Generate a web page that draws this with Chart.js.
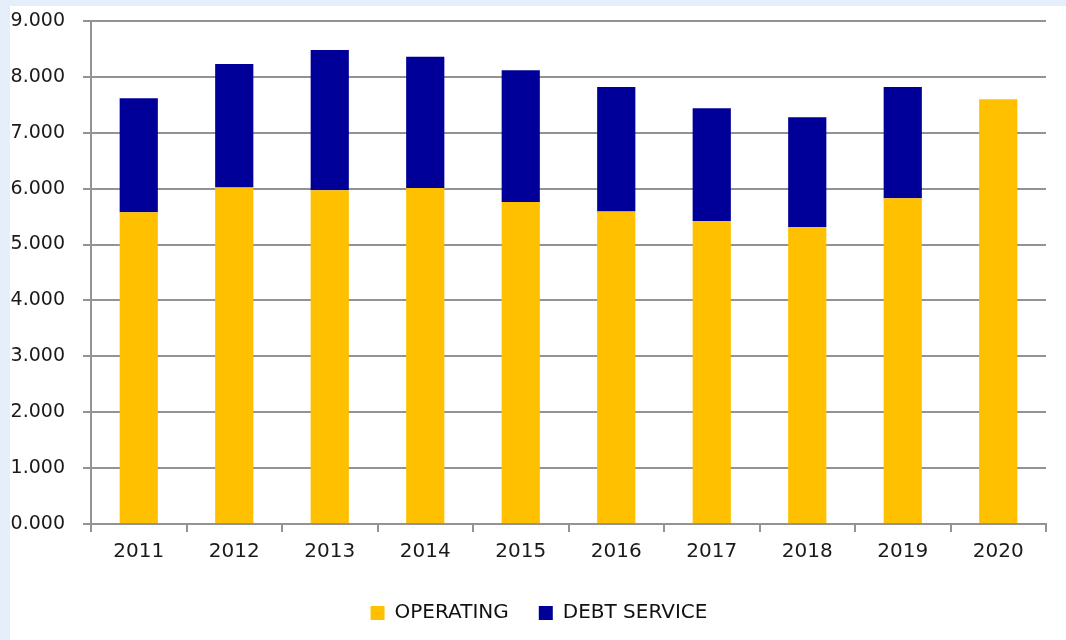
<!DOCTYPE html>
<html lang="en">
<head>
<meta charset="UTF-8">
<title>Operating and Debt Service</title>
<script src="https://cdn.jsdelivr.net/npm/chart.js"></script>
<style>
  body { margin: 0; background: #e4effb; }
  .frame {
    position: absolute; left: 10px; top: 6px;
    width: 1056px; height: 634px;
    background: #fff; overflow: hidden;
  }
  .frame canvas { display: block; }
</style>
</head>
<body>
<div class="frame"><canvas id="spendChart" width="1056" height="627"></canvas></div>
<script>
// yearly spending, in thousands
const years = ['2011', '2012', '2013', '2014', '2015', '2016', '2017', '2018', '2019', '2020'];
const operating = [5.58, 6.02, 5.97, 6.01, 5.76, 5.59, 5.42, 5.31, 5.83, 7.60];
const debtService = [2.04, 2.21, 2.51, 2.35, 2.36, 2.23, 2.02, 1.97, 1.99, 0];

Chart.defaults.font.family = "'DejaVu Sans', Verdana, sans-serif";
Chart.defaults.color = '#1a1a1a';

const gridColor = '#939393';

// nudge the legend a little to the right of the canvas centre
const legendShift = {
  id: 'legendShift',
  afterLayout(chart) {
    chart.legend.left += 11;
    chart.legend.right += 11;
  }
};

new Chart(document.getElementById('spendChart'), {
  type: 'bar',
  data: {
    labels: years,
    datasets: [
      { label: 'OPERATING', data: operating, backgroundColor: '#ffc000' },
      { label: 'DEBT SERVICE', data: debtService, backgroundColor: '#000099' }
    ]
  },
  plugins: [legendShift],
  options: {
    responsive: false,
    animation: false,
    events: [],
    categoryPercentage: 1,
    barPercentage: 0.4,
    layout: { padding: { top: 15, right: 20, bottom: 0, left: 0 } },
    plugins: {
      tooltip: { enabled: false },
      legend: {
        position: 'bottom',
        labels: { boxWidth: 14, boxHeight: 14, padding: 30, font: { size: 20 }, color: '#111' }
      }
    },
    scales: {
      x: {
        stacked: true,
        grid: { drawOnChartArea: false, color: gridColor, lineWidth: 2, tickLength: 8 },
        border: { color: gridColor, width: 2 },
        ticks: { font: { size: 20 }, padding: 8 },
        afterFit: (s) => { s.height = 49; }
      },
      y: {
        stacked: true,
        min: 0,
        max: 9,
        grid: { color: gridColor, lineWidth: 2, tickLength: 8 },
        border: { color: gridColor, width: 2 },
        ticks: { stepSize: 1, font: { size: 19 }, padding: 18, callback: (v) => v.toFixed(3) },
        // fixed axis width; labels may hang past the top and bottom of the plot
        afterFit: (s) => { s.width = 81; s.paddingTop = 0; s.paddingBottom = 0; }
      }
    }
  }
});
</script>
</body>
</html>
